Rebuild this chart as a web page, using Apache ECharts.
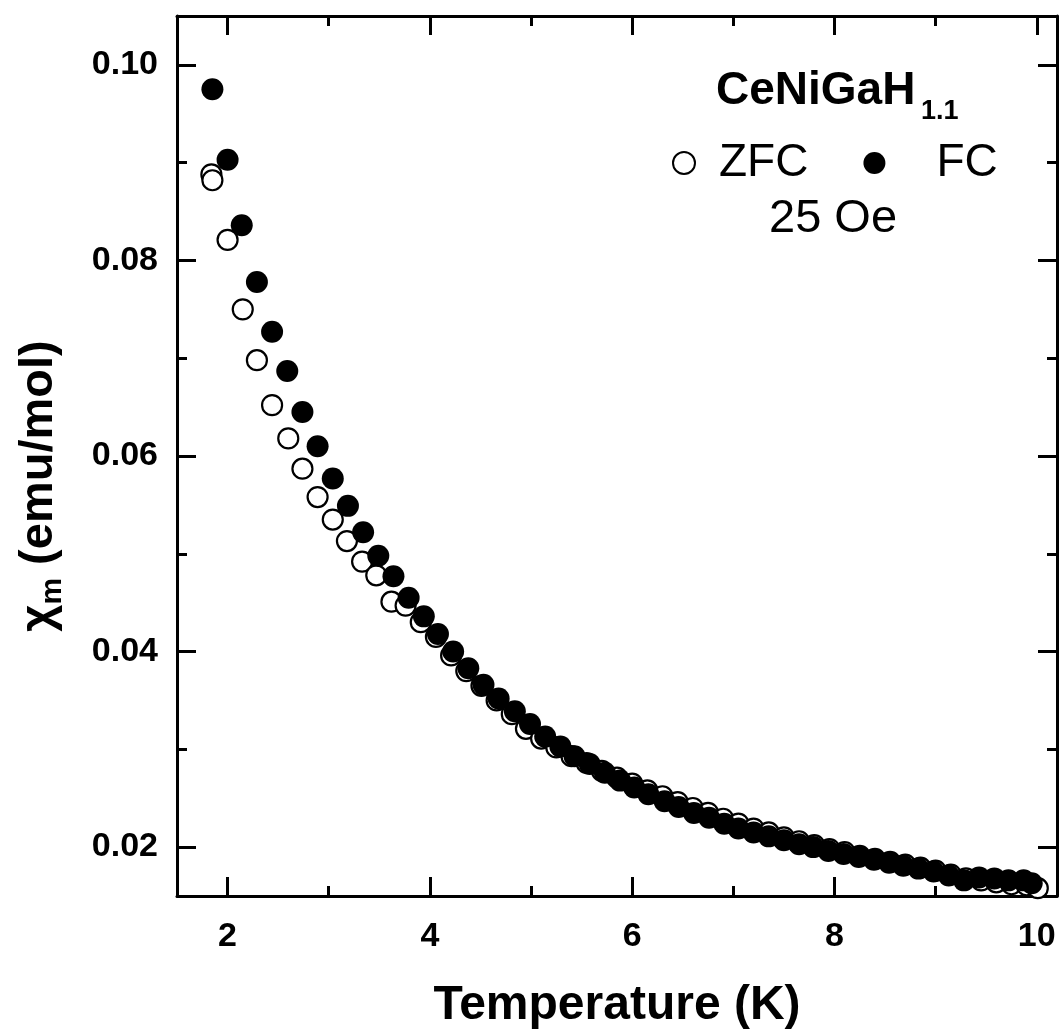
<!DOCTYPE html>
<html>
<head>
<meta charset="utf-8">
<script src="https://cdn.jsdelivr.net/npm/echarts@6/dist/echarts.min.js"></script>
<style>html,body{margin:0;padding:0;background:#fff}#c{width:1059px;height:1030px}</style>
</head>
<body>
<div id="c"></div>
<script>
// Temperature (K) and susceptibility (emu/mol)
const zfcT = [1.84,1.85,2.00,2.15,2.29,2.44,2.60,2.74,2.89,3.04,3.18,3.33,3.47,3.62,3.76,3.91,4.06,4.21,4.36,4.51,4.66,4.81,4.95,5.10,5.25,5.40,5.55,5.70,5.85,6.00,6.15,6.30,6.45,6.60,6.75,6.90,7.05,7.20,7.35,7.50,7.65,7.80,7.95,8.10,8.25,8.40,8.55,8.70,8.85,9.00,9.15,9.30,9.45,9.60,9.75,9.90,10.01];
const zfcChi = [0.0888,0.0882,0.0821,0.0750,0.0698,0.0652,0.0618,0.0587,0.0558,0.0535,0.0513,0.0492,0.0478,0.0451,0.0447,0.0430,0.0415,0.0396,0.0380,0.0365,0.0350,0.0336,0.0321,0.0311,0.0302,0.0293,0.0286,0.0278,0.0271,0.0265,0.0258,0.0252,0.0246,0.0240,0.0235,0.0229,0.0224,0.0219,0.0215,0.0210,0.0206,0.0202,0.0198,0.0195,0.0191,0.0188,0.0185,0.0182,0.0179,0.0176,0.0172,0.0168,0.0166,0.0164,0.0162,0.0161,0.0158];
const fcT = [1.85,2.00,2.14,2.29,2.44,2.59,2.74,2.89,3.04,3.19,3.34,3.49,3.64,3.79,3.94,4.08,4.23,4.38,4.53,4.68,4.84,4.99,5.14,5.29,5.43,5.58,5.73,5.88,6.02,6.16,6.32,6.46,6.61,6.76,6.91,7.05,7.20,7.35,7.50,7.65,7.79,7.94,8.09,8.24,8.39,8.54,8.68,8.83,8.98,9.13,9.28,9.43,9.58,9.72,9.87,9.95];
const fcChi = [0.0975,0.0903,0.0836,0.0778,0.0727,0.0687,0.0645,0.0610,0.0577,0.0549,0.0522,0.0498,0.0477,0.0455,0.0436,0.0418,0.0400,0.0383,0.0366,0.0352,0.0339,0.0326,0.0313,0.0303,0.0293,0.0285,0.0276,0.0268,0.0261,0.0254,0.0247,0.0241,0.0235,0.0230,0.0224,0.0219,0.0215,0.0211,0.0207,0.0203,0.0200,0.0196,0.0193,0.0190,0.0187,0.0184,0.0181,0.0178,0.0175,0.0171,0.0166,0.0169,0.0168,0.0166,0.0166,0.0163];
const xMajor = [2,4,6,8,10];
const xMinor = [3,5,7,9];
const yMajor = [0.02,0.04,0.06,0.08,0.10];
const yMinor = [0.03,0.05,0.07,0.09];

const FONT = "'Liberation Sans', Arial, sans-serif";
const LW = 3;
const zip = (a,b) => a.map((v,i)=>[v,b[i]]);

function xAx(pos, ticks, len, labels, line) {
  return {
    type:'value', position:pos, min:1.5, max:10.2,
    name: labels ? 'Temperature (K)' : '',
    nameLocation:'middle', nameGap:86, nameMoveOverlap:false,
    nameTextStyle:{fontFamily:FONT,fontWeight:'bold',fontSize:48,color:'#000'},
    axisLine:{show:line,onZero:false,lineStyle:{color:'#000',width:LW}},
    axisTick:{show:true,inside:true,length:len,customValues:ticks,lineStyle:{color:'#000',width:LW}},
    axisLabel:{show:labels,customValues:ticks,margin:24,fontFamily:FONT,fontWeight:'bold',fontSize:34,color:'#000'},
    splitLine:{show:false}
  };
}
function yAx(pos, ticks, len, labels, line) {
  return {
    type:'value', position:pos, min:0.015, max:0.105,
    name: labels ? '{a|χ}{s|m}{a| (emu/mol)}' : '',
    nameLocation:'middle', nameGap:112, nameRotate:90, nameMoveOverlap:false,
    nameTextStyle:{fontFamily:FONT,fontWeight:'bold',fontSize:47,color:'#000',padding:[0,60,0,0],
      rich:{a:{fontFamily:FONT,fontWeight:'bold',fontSize:47,lineHeight:52,color:'#000'},
            s:{fontFamily:FONT,fontWeight:'bold',fontSize:30,lineHeight:52,padding:[28,0,0,0],color:'#000'}}},
    axisLine:{show:line,onZero:false,lineStyle:{color:'#000',width:LW}},
    axisTick:{show:true,inside:true,length:len,customValues:ticks,lineStyle:{color:'#000',width:LW}},
    axisLabel:{show:labels,customValues:ticks,margin:19,formatter:v=>v.toFixed(2),fontFamily:FONT,fontWeight:'bold',fontSize:34,color:'#000'},
    splitLine:{show:false}
  };
}

const chart = echarts.init(document.getElementById('c'), null, {renderer:'canvas'});
chart.setOption({
  animation:false,
  backgroundColor:'#fff',
  grid:{left:177,right:2,top:16,bottom:134,containLabel:false,outerBoundsMode:'none'},
  xAxis:[xAx('bottom',xMajor,19,true,true), xAx('bottom',xMinor,10,false,false),
         xAx('top',xMajor,19,false,true), xAx('top',xMinor,10,false,false)],
  yAxis:[yAx('left',yMajor,19,true,true), yAx('left',yMinor,10,false,false),
         yAx('right',yMajor,19,false,true), yAx('right',yMinor,10,false,false)],
  legend:{
    left:672, top:140, padding:0, itemWidth:22, itemHeight:22, itemGap:55,
    textStyle:{fontFamily:FONT,fontSize:46,color:'#000'},
    data:[{name:'ZFC',icon:'circle',textStyle:{padding:[0,0,0,19]}},
          {name:'FC',icon:'circle',textStyle:{padding:[0,0,0,46]}}]
  },
  graphic:[
    {type:'text',x:716,y:91,style:{text:'CeNiGaH',font:"bold 46px "+FONT,fill:'#000',verticalAlign:'middle'}},
    {type:'text',x:921,y:112,style:{text:'1.1',font:"bold 27px "+FONT,fill:'#000',verticalAlign:'middle'}},
    {type:'text',x:769,y:219,style:{text:'25 Oe',font:"47px "+FONT,fill:'#000',verticalAlign:'middle'}}
  ],
  series:[
    {name:'ZFC',type:'scatter',symbol:'circle',symbolSize:20,xAxisIndex:0,yAxisIndex:0,
     itemStyle:{color:'#fff',borderColor:'#000',borderWidth:2.2,opacity:1},
     data:zip(zfcT,zfcChi)},
    {name:'FC',type:'scatter',symbol:'circle',symbolSize:22,xAxisIndex:0,yAxisIndex:0,
     itemStyle:{color:'#000',borderColor:'#000',borderWidth:0,opacity:1},
     data:zip(fcT,fcChi)}
  ]
});
</script>
</body>
</html>
